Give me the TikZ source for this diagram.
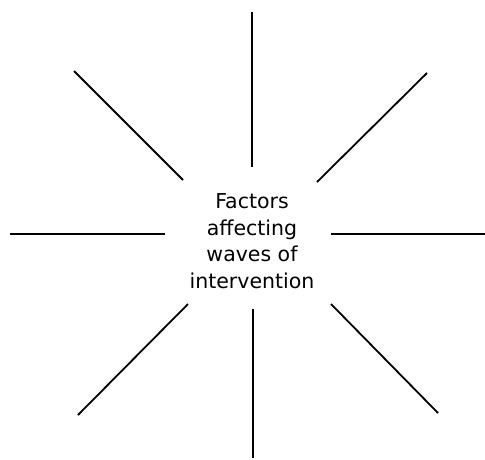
\documentclass[tikz,border=0pt]{standalone}
\usepackage{fontspec}
\setmainfont{DejaVu Sans}
\usepackage{tikz}
\usetikzlibrary{positioning}

\begin{document}
\begin{tikzpicture}[
    x=1pt, y=-1pt,
    hub/.style={align=center, font=\fontsize{20.5}{26.5}\selectfont, inner sep=0pt},
    spoke/.style={line width=1.8pt, line cap=butt}
]
    \useasboundingbox (0,0) rectangle (485,459);

    \node[hub] (factors) at (252,241) {Factors\\affecting\\waves of\\intervention};

    % inner ends of the spokes
    \coordinate (nIn) at (252,167);
    \coordinate (neIn) at (317,182);
    \coordinate (eIn) at (331,234);
    \coordinate (seIn) at (331,304);
    \coordinate (sIn) at (253,309);
    \coordinate (swIn) at (188,304);
    \coordinate (wIn) at (165,234);
    \coordinate (nwIn) at (183,180);

    % outer ends of the spokes
    \coordinate (nOut) at (252,12);
    \coordinate (neOut) at (427,73);
    \coordinate (eOut) at (485,234);
    \coordinate (seOut) at (438,413);
    \coordinate (sOut) at (253,458);
    \coordinate (swOut) at (78,415);
    \coordinate (wOut) at (10,234);
    \coordinate (nwOut) at (74,71);

    \draw[spoke] (nIn) -- (nOut);
    \draw[spoke] (neIn) -- (neOut);
    \draw[spoke] (eIn) -- (eOut);
    \draw[spoke] (seIn) -- (seOut);
    \draw[spoke] (sIn) -- (sOut);
    \draw[spoke] (swIn) -- (swOut);
    \draw[spoke] (wIn) -- (wOut);
    \draw[spoke] (nwIn) -- (nwOut);
\end{tikzpicture}
\end{document}
